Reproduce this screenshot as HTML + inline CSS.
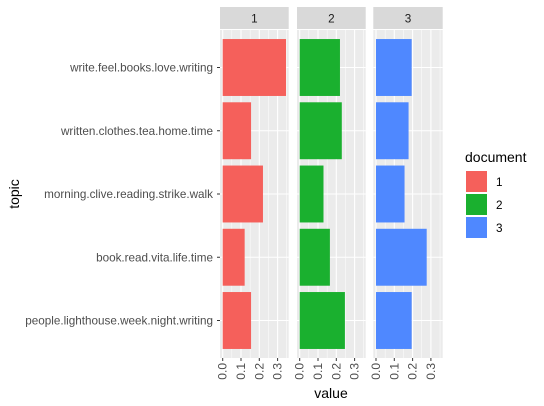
<!DOCTYPE html>
<html><head><meta charset="utf-8"><style>
body{margin:0;background:#fff}
svg{display:block;font-family:"Liberation Sans",Arial,sans-serif}
</style></head><body>
<svg id="chart" width="544" height="406" viewBox="0 0 544 406" xmlns="http://www.w3.org/2000/svg"></svg>
<script>
const topics = ["write.feel.books.love.writing","written.clothes.tea.home.time","morning.clive.reading.strike.walk","book.read.vita.life.time","people.lighthouse.week.night.writing"];
const documents = ["1","2","3"];
const doc1Values = [0.346, 0.155, 0.22, 0.12, 0.155];
const doc2Values = [0.22, 0.23, 0.13, 0.165, 0.247];
const doc3Values = [0.195, 0.178, 0.156, 0.277, 0.195];
const xTicks = [0, 0.1, 0.2, 0.3];
const xTickLabels = ["0.0","0.1","0.2","0.3"];
const colors = ["#F5605B","#1AB02F","#4F88FF"];

const NS="http://www.w3.org/2000/svg";
const svgEl=document.getElementById('chart');
function mk(tag,attrs,parent){const e=document.createElementNS(NS,tag);for(const k in attrs)e.setAttribute(k,attrs[k]);(parent||svgEl).appendChild(e);return e;}

const panels=[{x0:220,x1:288.7},{x0:297,x1:365.7},{x0:373.3,x1:442.7}];
const plotTop=30, plotBottom=358;
const scaleX=18.3/0.1;
const bandStep=63.25, firstCenter=67.5;
function xPos(p,v){return panels[p].x0+2.7+v*scaleX;}
function yPos(i){return firstCenter+i*bandStep;}
const series=[doc1Values,doc2Values,doc3Values];

panels.forEach((pn,p)=>{
  const g=mk('g',{});
  
  
  const strip=mk('rect',{x:pn.x0,y:7,width:pn.x1-pn.x0,height:22,fill:'#D9D9D9'},g);
  
  
  const st=mk('text',{x:(pn.x0+pn.x1)/2,y:22.5,'text-anchor':'middle','font-size':'11.7',fill:'#1a1a1a'},g);
  st.textContent=documents[p];
  
  
  const bg=mk('rect',{x:pn.x0,y:plotTop,width:pn.x1-pn.x0,height:plotBottom-plotTop,fill:'#EBEBEB'},g);
  
  
  for(let v=0.05;v<0.36;v+=0.1){const x=xPos(p,v);if(x<pn.x1)mk('line',{x1:x,x2:x,y1:plotTop,y2:plotBottom,stroke:'#fff','stroke-width':0.5},g);}
  xTicks.forEach(v=>{const x=xPos(p,v);mk('line',{x1:x,x2:x,y1:plotTop,y2:plotBottom,stroke:'#fff','stroke-width':1.1},g);});
  topics.forEach((t,i)=>{const y=yPos(i);mk('line',{x1:pn.x0,x2:pn.x1,y1:y,y2:y,stroke:'#fff','stroke-width':1.1},g);});
  series[p].forEach((v,i)=>{
    const b=mk('rect',{x:xPos(p,0),y:yPos(i)-bandStep*0.45,width:xPos(p,v)-xPos(p,0),height:bandStep*0.9,fill:colors[p]},g);
    
    
  });
  xTicks.forEach((v,k)=>{
    const x=xPos(p,v);
    mk('line',{x1:x,x2:x,y1:plotBottom,y2:plotBottom+3,stroke:'#333','stroke-width':1},g);
    const tl=mk('text',{transform:`translate(${x+4},${plotBottom+5}) rotate(-90)`,'text-anchor':'end','font-size':'12',fill:'#4d4d4d'},g);
    tl.textContent=xTickLabels[k];
    
    
  });
});
topics.forEach((t,i)=>{
  const y=yPos(i);
  mk('line',{x1:217,x2:220,y1:y,y2:y,stroke:'#333','stroke-width':1});
  const tl=mk('text',{x:213,y:y+4,'text-anchor':'end','font-size':'11.7',fill:'#4d4d4d'});
  tl.textContent=t;
  
  
});
const xt=mk('text',{x:331,y:398,'text-anchor':'middle','font-size':'14',fill:'#000'});
xt.textContent='value';


const yt=mk('text',{transform:'translate(19,194) rotate(-90)','text-anchor':'middle','font-size':'14',fill:'#000'});
yt.textContent='topic';


const lt=mk('text',{x:465,y:162,'font-size':'14',fill:'#000'});
lt.textContent='document';


documents.forEach((d,k)=>{
  const y=171+k*23;
  const r=mk('rect',{x:466,y:y,width:21,height:21,fill:colors[k]});
  
  
  const tx=mk('text',{x:496,y:y+15,'font-size':'11.7',fill:'#000'});
  tx.textContent=d;
  
  
});
</script>
</body></html>
